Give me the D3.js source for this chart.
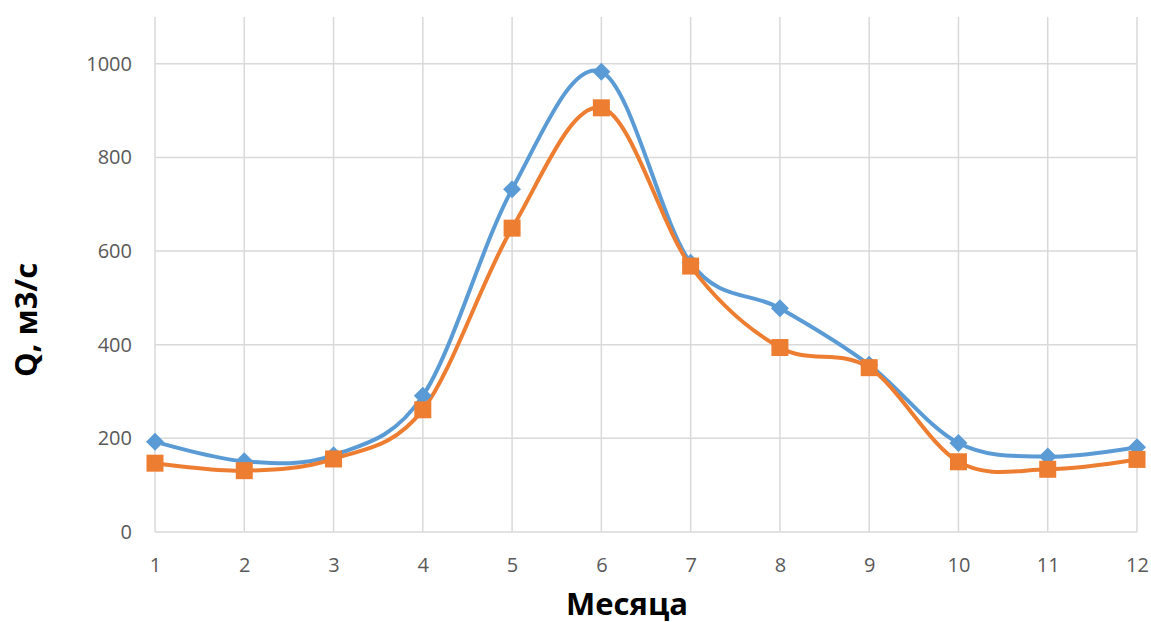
<!DOCTYPE html>
<html>
<head>
<meta charset="utf-8">
<script src="https://cdn.jsdelivr.net/npm/d3@7"></script>
<style>
	body { margin: 0; background: #fff; }
	svg { display: block; }
</style>
</head>
<body>
<script>
// data
const months = [1, 2, 3, 4, 5, 6, 7, 8, 9, 10, 11, 12];
const seriesBlue = [193, 151, 164, 291, 732, 983, 575, 478, 357, 190, 161, 181];
const seriesOrange = [147, 131, 156, 261, 649, 906, 568, 394, 351, 150, 134, 155];
const yTicks = [0, 200, 400, 600, 800, 1000];

const w = 1151, h = 622,
	  padLeft = 155, padRight = 1137, padTop = 17, padBottom = 532,
	  font = "'Open Sans', sans-serif";

const svg = d3.select("body")
			  .append("svg")
			  .attr("width", w)
			  .attr("height", h);

const xScale = d3.scaleLinear()
				 .domain([1, 12])
				 .range([padLeft, padRight]),
	  yScale = d3.scaleLinear()
				 .domain([0, 1100])
				 .range([padBottom, padTop]);

// grid
svg.append("g")
   .selectAll("line")
   .data(months)
   .enter()
   .append("line")
   .attr("x1", d => xScale(d))
   .attr("x2", d => xScale(d))
   .attr("y1", padTop)
   .attr("y2", padBottom)
   .attr("stroke", "#d9d9d9")
   .attr("stroke-width", 1.5);

svg.append("g")
   .selectAll("line")
   .data(yTicks)
   .enter()
   .append("line")
   .attr("x1", padLeft)
   .attr("x2", padRight)
   .attr("y1", d => yScale(d))
   .attr("y2", d => yScale(d))
   .attr("stroke", "#d9d9d9")
   .attr("stroke-width", 1.5);

// axes (labels only)
const xAxis = d3.axisBottom(xScale).tickValues(months).tickSize(0).tickPadding(26),
	  yAxis = d3.axisLeft(yScale).tickValues(yTicks).tickFormat(d3.format("d")).tickSize(0).tickPadding(23);

const styleAxis = g => {
	g.select(".domain").remove();
	g.attr("font-family", font).attr("font-size", 20);
	g.selectAll("text").attr("fill", "#595959");
};

svg.append("g")
   .attr("transform", "translate(0, " + padBottom + ")")
   .call(xAxis)
   .call(styleAxis);

svg.append("g")
   .attr("transform", "translate(" + padLeft + ", 0)")
   .call(yAxis)
   .call(styleAxis);

// lines
const line = d3.line()
			   .x((d, i) => xScale(months[i]))
			   .y(d => yScale(d))
			   .curve(d3.curveCardinal.tension(0));

svg.append("path")
   .datum(seriesBlue)
   .attr("d", line)
   .attr("fill", "none")
   .attr("stroke", "#5b9bd5")
   .attr("stroke-width", 4);

svg.append("path")
   .datum(seriesOrange)
   .attr("d", line)
   .attr("fill", "none")
   .attr("stroke", "#ed7d31")
   .attr("stroke-width", 4);

// markers
svg.append("g")
   .selectAll("path")
   .data(seriesBlue)
   .enter()
   .append("path")
   .attr("d", "M0,-9L9,0L0,9L-9,0Z")
   .attr("transform", (d, i) => "translate(" + xScale(months[i]) + "," + yScale(d) + ")")
   .attr("fill", "#5b9bd5");

svg.append("g")
   .selectAll("rect")
   .data(seriesOrange)
   .enter()
   .append("rect")
   .attr("x", (d, i) => xScale(months[i]) - 8.5)
   .attr("y", d => yScale(d) - 8.5)
   .attr("width", 17)
   .attr("height", 17)
   .attr("fill", "#ed7d31");

// axis titles
svg.append("text")
   .text("Месяца")
   .attr("x", 627)
   .attr("y", 615)
   .attr("text-anchor", "middle")
   .attr("font-family", font)
   .attr("font-size", 31)
   .attr("font-weight", "bold")
   .attr("fill", "#000");

svg.append("text")
   .text("Q, м3/с")
   .attr("transform", "translate(37, 320) rotate(-90)")
   .attr("text-anchor", "middle")
   .attr("font-family", font)
   .attr("font-size", 31)
   .attr("font-weight", "bold")
   .attr("fill", "#000");
</script>
</body>
</html>
